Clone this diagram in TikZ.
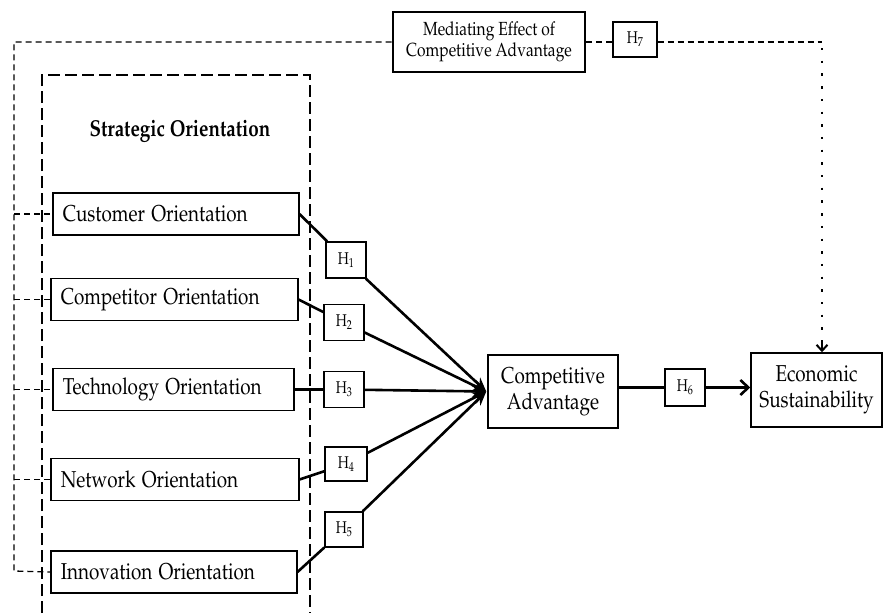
\documentclass[tikz,border=0pt]{standalone}
\usepackage[T1]{fontenc}
\usepackage{mathpazo}
\usepackage{graphicx}
\usetikzlibrary{arrows.meta}
\newcommand\sqz[1]{\scalebox{0.82}[1]{#1}}
\newcommand\sqh[1]{\scalebox{0.78}[1]{#1}}
\tikzset{
  obox/.style={draw, line width=1.5pt, minimum height=42pt, inner xsep=10pt, inner ysep=0pt,
    align=left, anchor=west, font=\fontsize{23}{26}\selectfont},
  hbox/.style={draw, line width=1.4pt, minimum width=40pt, minimum height=36pt, inner sep=0pt,
    font=\fontsize{17}{19}\selectfont},
  bigbox/.style={draw, line width=1.5pt, inner sep=0pt, align=center,
    font=\fontsize{23}{26}\selectfont},
  conn/.style={line width=2.6pt},
  arr/.style={line width=2.6pt, -{Stealth[length=14pt,width=12pt]}},
  dsh/.style={line width=1.3pt, dash pattern=on 6pt off 4pt},
  dot/.style={line width=2.4pt, dash pattern=on 2.4pt off 10.3pt},
}
\begin{document}
\begin{tikzpicture}[x=1pt,y=-1pt]
\useasboundingbox (0,0) rectangle (883,614);
% strategic dashed frame
\draw[line width=1.3pt, dash pattern=on 12pt off 5pt] (42,613) -- (42,75) -- (310,75) -- (310,613);
\node[font=\fontsize{23}{26}\selectfont\bfseries] (title) at (180,131) {\sqz{Strategic Orientation}};
% orientation boxes
\node[obox, text width=226pt] (cust) at (52,214) {\sqz{Customer Orientation}};
\node[obox, text width=227pt] (comp) at (50,299.5) {\sqz{Competitor Orientation}};
\node[obox, text width=221pt] (tech) at (52,389.5) {\sqz{Technology Orientation}};
\node[obox, text width=228pt] (netw) at (50,479.5) {\sqz{Network Orientation}};
\node[obox, text width=226pt] (inno) at (50,572) {\sqz{Innovation Orientation}};
% hypothesis boxes
\node[hbox] (h1) at (346,260) {\sqh{H$_1$}};
\node[hbox] (h2) at (344,322.5) {\sqh{H$_2$}};
\node[hbox] (h3) at (344,389.5) {\sqh{H$_3$}};
\node[hbox, minimum width=42pt, minimum height=34pt] (h4) at (346,464) {\sqh{H$_4$}};
\node[hbox, minimum width=38pt, minimum height=35pt] (h5) at (344,529.5) {\sqh{H$_5$}};
\node[hbox, minimum height=37pt] (h6) at (685,387.5) {\sqh{H$_6$}};
\node[hbox, minimum width=44pt, minimum height=35pt] (h7) at (635,39.5) {\sqh{H$_7$}};
% main boxes
\node[bigbox, minimum width=130pt, minimum height=73pt] (ca) at (553,391.5) {\sqz{Competitive}\\\sqz{Advantage}};
\node[bigbox, minimum width=131pt, minimum height=74pt] (es) at (816.5,390) {\sqz{Economic}\\\sqz{Sustainability}};
\node[draw, line width=2.6pt, minimum width=192pt, minimum height=60pt, inner sep=0pt, align=center,
  font=\fontsize{19}{21}\selectfont] (med) at (489,42) {\sqz{Mediating Effect of}\\\sqz{Competitive Advantage}};
% paths to competitive advantage
\coordinate (conv) at ([xshift=-1pt]ca.west);
\draw[arr] (cust.east) -- (h1) -- (conv);
\draw[arr] (comp.east) -- (h2) -- (conv);
\draw[arr] (tech.east) -- (h3) -- (conv);
\draw[arr] (netw.east) -- (h4) -- (conv);
\draw[arr] (inno.east) -- (h5) -- (conv);
% H6
\draw[conn] (ca.east |- h6) -- (h6.west);
\draw[line width=2.6pt, -{Straight Barb[length=8pt,width=15pt,line width=2.6pt]}] (h6.east) -- (es.west |- h6);
% outer dashed mediating loop
\coordinate (tl) at (14,42);
\coordinate (bl) at (14,571);
\draw[dsh] (med.west |- tl) -- (tl) -- (bl) -- (inno.west);
\draw[dsh] (tl |- cust.west) -- (cust.west);
\draw[dsh] (tl |- comp.west) -- (comp.west);
\draw[dsh] (tl |- tech.west) -- (tech.west);
\draw[dsh] (tl |- netw.west) -- (netw.west);
\draw[dsh] (med.east |- tl) -- (h7.west |- tl);
\coordinate (tr) at (822,42);
\draw[dsh] (h7.east |- tl) -- (tr);
\draw[dot] ([yshift=-6pt]tr) -- ([yshift=16pt]es.north -| tr);
\draw[line width=2pt, -{Straight Barb[length=6pt,width=11pt,line width=2pt]}] ([yshift=12pt]es.north -| tr) -- (es.north -| tr);
\end{tikzpicture}
\end{document}
